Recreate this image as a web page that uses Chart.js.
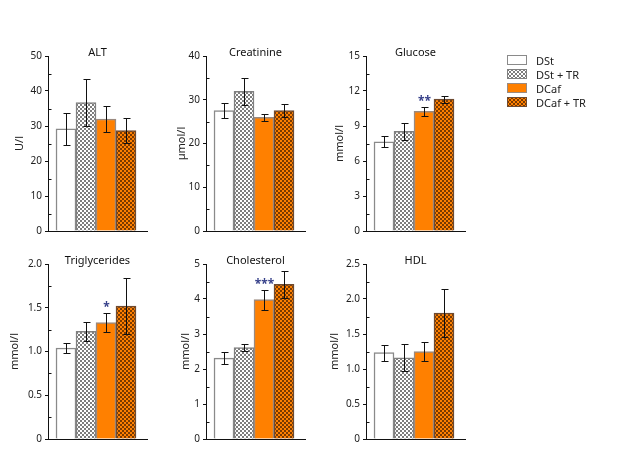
<!DOCTYPE html>
<html>
<head>
<meta charset="utf-8">
<script src="https://cdn.jsdelivr.net/npm/chart.js@4.4.0/dist/chart.umd.min.js"></script>
<style>
  body { margin: 0; background: #fff; width: 640px; height: 454px; position: relative; overflow: hidden; font-family: "Noto Sans", sans-serif; }
  .panel { position: absolute; width: 155px; height: 200px; }
  #legend { position: absolute; left: 507px; top: 53px; font-size: 11px; color: #222; }
  .row { height: 14px; display: flex; align-items: center; }
  .row canvas { margin-right: 9px; }
</style>
</head>
<body>
<canvas class="panel" id="alt" width="155" height="200" style="left:0px;top:40px"></canvas>
<canvas class="panel" id="crea" width="155" height="200" style="left:158px;top:40px"></canvas>
<canvas class="panel" id="gluc" width="155" height="200" style="left:318px;top:40px"></canvas>
<canvas class="panel" id="trig" width="155" height="200" style="left:0px;top:248px"></canvas>
<canvas class="panel" id="chol" width="155" height="200" style="left:158px;top:248px"></canvas>
<canvas class="panel" id="hdl" width="155" height="200" style="left:318px;top:248px"></canvas>
<div id="legend"></div>
<script>
// groups and values (mean and error half-width)
const groups = ['DSt', 'DSt + TR', 'DCaf', 'DCaf + TR'];

const altMean = [29.2, 36.7, 32.0, 28.7];
const altErr = [4.5, 6.6, 3.6, 3.5];
const creaMean = [27.5, 31.9, 26.0, 27.5];
const creaErr = [1.65, 3.05, 0.75, 1.55];
const glucMean = [7.65, 8.55, 10.25, 11.3];
const glucErr = [0.48, 0.75, 0.42, 0.29];
const trigMean = [1.04, 1.23, 1.33, 1.52];
const trigErr = [0.06, 0.11, 0.105, 0.315];
const cholMean = [2.31, 2.61, 3.98, 4.42];
const cholErr = [0.165, 0.105, 0.28, 0.39];
const hdlMean = [1.235, 1.16, 1.25, 1.80];
const hdlErr = [0.115, 0.195, 0.13, 0.345];

// stars shown above the DCaf bar
const altStars = '';
const creaStars = '';
const glucStars = '**';
const trigStars = '*';
const cholStars = '***';
const hdlStars = '';

Chart.defaults.font.family = '"Noto Sans", sans-serif';
Chart.defaults.font.size = 10;
Chart.defaults.color = '#222';

// small checker pattern for the "+ TR" bars
function checker(base, dots) {
    const c = document.createElement('canvas');
    c.width = 4; c.height = 4;
    const g = c.getContext('2d');
    g.fillStyle = base; g.fillRect(0, 0, 4, 4);
    g.fillStyle = dots; g.fillRect(0, 0, 2, 2); g.fillRect(2, 2, 2, 2);
    return g.createPattern(c, 'repeat');
}

const fills = ['#ffffff', checker('#ffffff', '#7d7d7d'), '#ff8000', checker('#ff8000', '#7a3a00')];
const borders = ['#8a8a8a', '#808080', '#9a8a80', '#6e4a30'];

function isMajor(v, major) {
    const r = v / major;
    return Math.abs(r - Math.round(r)) < 1e-6;
}

// error bars, stars, inner minor ticks and panel title
const extras = {
    id: 'extras',
    afterDatasetsDraw(chart, args, opts) {
        const { ctx, chartArea } = chart;
        const y = chart.scales.y;
        const meta = chart.getDatasetMeta(0);
        ctx.save();
        ctx.strokeStyle = '#111';
        ctx.lineWidth = 1;
        meta.data.forEach((bar, i) => {
            const m = opts.mean[i], e = opts.err[i];
            const px = Math.round(bar.x) + 0.5;
            const yt = Math.round(y.getPixelForValue(m + e)) + 0.5;
            const yb = Math.round(y.getPixelForValue(m - e)) + 0.5;
            ctx.beginPath();
            ctx.moveTo(px, yt); ctx.lineTo(px, yb);
            ctx.moveTo(px - 3, yt); ctx.lineTo(px + 4, yt);
            ctx.moveTo(px - 3, yb); ctx.lineTo(px + 4, yb);
            ctx.stroke();
            if (opts.stars && i === 2) {
                ctx.fillStyle = '#37418a';
                ctx.font = 'bold 12px "Noto Sans", sans-serif';
                ctx.textAlign = 'center';
                ctx.textBaseline = 'middle';
                ctx.fillText(opts.stars, px, yt - 6);
            }
        });
        // minor ticks on the inside of the y axis
        const ax = Math.round(chartArea.left) + 0.5;
        y.ticks.forEach(t => {
            if (isMajor(t.value, opts.major)) return;
            const py = Math.round(y.getPixelForValue(t.value)) + 0.5;
            ctx.beginPath(); ctx.moveTo(ax, py); ctx.lineTo(ax + 3, py); ctx.stroke();
        });
        ctx.fillStyle = '#111';
        ctx.font = '11px "Noto Sans", sans-serif';
        ctx.textAlign = 'center';
        ctx.textBaseline = 'middle';
        ctx.fillText(opts.title, (chartArea.left + chartArea.right) / 2, chartArea.top - 3);
        ctx.restore();
    }
};

function makePanel(id, title, unit, mean, err, stars, max, minor, major, dec, titlePad) {
    new Chart(document.getElementById(id), {
        type: 'bar',
        data: {
            datasets: [{
                data: mean.map((v, i) => ({ x: i + 1, y: v })),
                backgroundColor: fills,
                borderColor: borders,
                borderWidth: 1.5,
                borderSkipped: 'bottom',
                categoryPercentage: 1,
                barPercentage: 1
            }]
        },
        options: {
            responsive: false,
            animation: false,
            layout: { padding: { top: 16, right: 8, bottom: 6, left: 0 } },
            plugins: {
                legend: { display: false },
                tooltip: { enabled: false },
                extras: { title: title, mean: mean, err: err, stars: stars, major: major }
            },
            scales: {
                x: {
                    type: 'linear',
                    offset: false,
                    min: 0.1,
                    max: 5.05,
                    afterBuildTicks: s => { s.ticks = groups.map((g, i) => ({ value: i + 1 })); },
                    afterFit: s => { s.height = 0; },
                    ticks: { display: false },
                    grid: { display: false },
                    border: { color: '#111', width: 1 }
                },
                y: {
                    min: 0,
                    max: max,
                    afterFit: s => { s.width = 48; },
                    ticks: {
                        stepSize: minor,
                        autoSkip: false,
                        padding: 3,
                        color: '#222',
                        callback: v => isMajor(v, major) ? (v === 0 ? '0' : v.toFixed(dec)) : ''
                    },
                    grid: {
                        drawOnChartArea: false,
                        tickLength: 3,
                        tickColor: c => isMajor(c.tick.value, major) ? '#111' : 'rgba(0,0,0,0)'
                    },
                    border: { color: '#111', width: 1 },
                    title: {
                        display: true,
                        text: unit,
                        color: '#222',
                        font: { size: 11 },
                        padding: { top: titlePad, bottom: 0 }
                    }
                }
            }
        },
        plugins: [extras]
    });
}

makePanel('alt', 'ALT', 'U/l', altMean, altErr, altStars, 50, 5, 10, 0, 13);
makePanel('crea', 'Creatinine', 'µmol/l', creaMean, creaErr, creaStars, 40, 5, 10, 0, 17);
makePanel('gluc', 'Glucose', 'mmol/l', glucMean, glucErr, glucStars, 15, 1.5, 3, 0, 15);
makePanel('trig', 'Triglycerides', 'mmol/l', trigMean, trigErr, trigStars, 2, 0.25, 0.5, 1, 8);
makePanel('chol', 'Cholesterol', 'mmol/l', cholMean, cholErr, cholStars, 5, 0.5, 1, 0, 21);
makePanel('hdl', 'HDL', 'mmol/l', hdlMean, hdlErr, hdlStars, 2.5, 0.25, 0.5, 1, 10);

// legend with the same fills
const legend = document.getElementById('legend');
groups.forEach((g, i) => {
    const row = document.createElement('div');
    row.className = 'row';
    const sw = document.createElement('canvas');
    sw.width = 20; sw.height = 10;
    const c = sw.getContext('2d');
    c.fillStyle = fills[i]; c.fillRect(0, 0, 20, 10);
    c.strokeStyle = borders[i]; c.lineWidth = 1; c.strokeRect(0.5, 0.5, 19, 9);
    const label = document.createElement('span');
    label.textContent = g;
    row.appendChild(sw);
    row.appendChild(label);
    legend.appendChild(row);
});
</script>
</body>
</html>
